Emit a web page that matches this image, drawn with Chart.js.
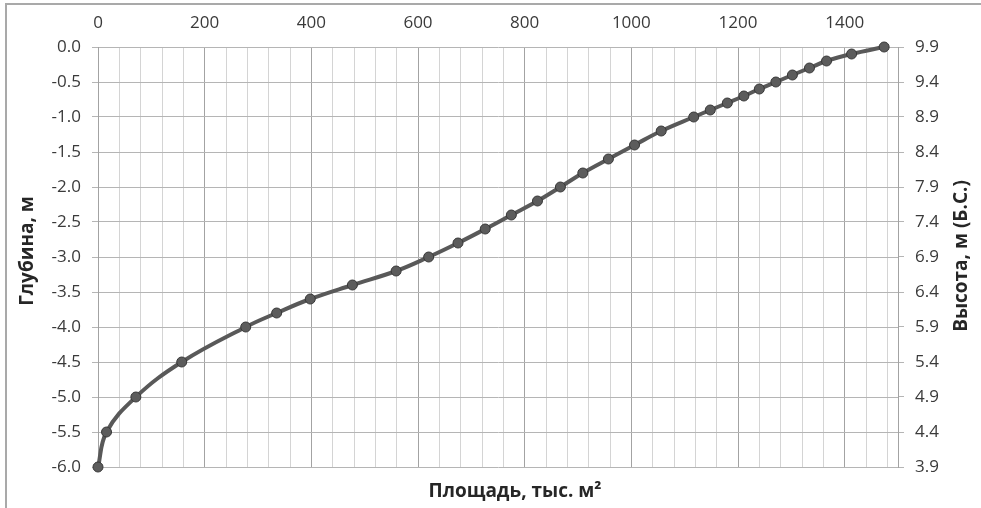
<!DOCTYPE html>
<html>
<head>
<meta charset="utf-8">
<script src="https://cdn.jsdelivr.net/npm/chart.js@4.4.1/dist/chart.umd.min.js"></script>
<style>
    html, body { margin: 0; padding: 0; background: #fff; }
    canvas { display: block; }
</style>
</head>
<body>
<canvas id="chart" width="981" height="508"></canvas>
<script>
// площадь зеркала (тыс. м2) на каждой глубине
const area = [0, 16, 71, 157, 277, 335, 398, 477, 559, 620, 675, 726, 775, 824, 867, 909, 957, 1006, 1056,
    1117, 1148, 1180, 1211, 1240, 1271, 1302, 1334, 1366, 1413, 1474];
const depth = [-6.0, -5.5, -5.0, -4.5, -4.0, -3.8, -3.6, -3.4, -3.2, -3.0, -2.8, -2.6, -2.4, -2.2, -2.0, -1.8,
    -1.6, -1.4, -1.2, -1.0, -0.9, -0.8, -0.7, -0.6, -0.5, -0.4, -0.3, -0.2, -0.1, 0.0];

const areaTicks = [0, 200, 400, 600, 800, 1000, 1200, 1400];
const depthTicks = [0.0, -0.5, -1.0, -1.5, -2.0, -2.5, -3.0, -3.5, -4.0, -4.5, -5.0, -5.5, -6.0];
const heightTicks = [9.9, 9.4, 8.9, 8.4, 7.9, 7.4, 6.9, 6.4, 5.9, 5.4, 4.9, 4.4, 3.9];

const xTitle = 'Площадь, тыс. м²';
const yTitle = 'Глубина, м';
const y2Title = 'Высота, м (Б.С.)';

const fontFamily = '"Open Sans", sans-serif';
const lineColor = '#595959';

// minor vertical grid every 40
let minorTicks = [];
for (let v = 0; v < 1500; v += 40) {
    minorTicks.push({value: v});
}

const titlesPlugin = {
    id: 'titles',
    afterDraw(chart) {
        const {ctx} = chart;
        ctx.save();

        ctx.strokeStyle = '#a9a9a9';
        ctx.lineWidth = 2;
        ctx.beginPath();
        ctx.moveTo(6, 508);
        ctx.lineTo(6, 4);
        ctx.lineTo(981, 4);
        ctx.stroke();

        ctx.fillStyle = '#262626';
        ctx.font = 'bold 19px ' + fontFamily;
        ctx.textAlign = 'center';
        ctx.textBaseline = 'middle';
        ctx.fillText(xTitle, 515, 492);

        const sides = [[28, 251, yTitle], [962, 256, y2Title]];
        sides.forEach(([x, y, text]) => {
            ctx.save();
            ctx.translate(x, y);
            ctx.rotate(-Math.PI / 2);
            ctx.fillText(text, 0, 0);
            ctx.restore();
        });

        ctx.restore();
    }
};

let config = {
    type: 'scatter',
    data: {
        datasets: [{
            data: area.map((a, i) => ({x: a, y: depth[i]})),
            showLine: true,
            tension: 0.4,
            clip: false,
            borderColor: lineColor,
            borderWidth: 4,
            pointRadius: 5,
            pointBackgroundColor: '#5c5c5c',
            pointBorderColor: '#383838',
            pointBorderWidth: 1,
            yAxisID: 'y'
        }]
    },
    options: {
        responsive: false,
        animation: false,
        layout: {
            padding: {top: 0, right: 0, bottom: 41, left: 0}
        },
        plugins: {
            legend: {display: false},
            tooltip: {enabled: false}
        },
        scales: {
            x: {
                type: 'linear',
                position: 'top',
                min: 0,
                max: 1500,
                afterBuildTicks: (scale) => { scale.ticks = minorTicks.slice(); },
                afterFit: (scale) => { scale.height = 47; },
                ticks: {
                    autoSkip: false,
                    maxRotation: 0,
                    padding: 14,
                    color: '#3a3a3a',
                    font: {family: fontFamily, size: 17},
                    callback: (value) => areaTicks.includes(value) ? String(value) : ''
                },
                grid: {
                    drawTicks: false,
                    color: (ctx) => ctx.tick && areaTicks.includes(ctx.tick.value) ? '#a3a3a3' : '#d4d4d4'
                },
                border: {display: false}
            },
            y: {
                position: 'left',
                min: -6,
                max: 0,
                afterBuildTicks: (scale) => { scale.ticks = depthTicks.map(v => ({value: v})); },
                afterFit: (scale) => { scale.width = 98; },
                ticks: {
                    padding: 11,
                    color: '#3a3a3a',
                    font: {family: fontFamily, size: 17},
                    callback: (value) => value.toFixed(1)
                },
                grid: {
                    color: '#b5b5b5',
                    tickLength: 6
                },
                border: {display: true, color: '#a3a3a3'}
            },
            y2: {
                position: 'right',
                min: 3.9,
                max: 9.9,
                afterBuildTicks: (scale) => { scale.ticks = heightTicks.map(v => ({value: v})); },
                afterFit: (scale) => { scale.width = 83; },
                ticks: {
                    padding: 11,
                    color: '#3a3a3a',
                    font: {family: fontFamily, size: 17},
                    callback: (value) => value.toFixed(1)
                },
                grid: {
                    drawOnChartArea: false,
                    color: '#b5b5b5',
                    tickLength: 6
                },
                border: {display: true, color: '#a3a3a3'}
            }
        }
    },
    plugins: [titlesPlugin]
};

new Chart(document.getElementById('chart'), config);
</script>
</body>
</html>
